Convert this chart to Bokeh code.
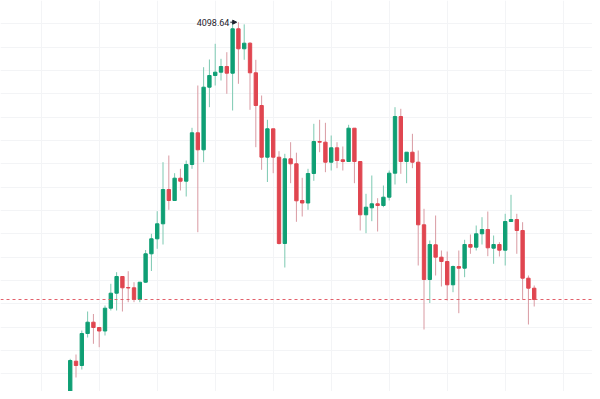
from bokeh.plotting import figure
from bokeh.models import ColumnDataSource, Span, FixedTicker, Range1d, Label, Arrow, NormalHead
from bokeh.embed import file_html
from bokeh.resources import INLINE

opens = [2545.4, 2595.4, 2577.4, 2598.6, 2742.6, 2725.4, 2853.4, 2898.6, 2877.4, 2863.4,
         2954.6, 3014.6, 3081.4, 3037.4, 3036.2, 2989.4, 3058.6, 3172.2, 3232.2, 3292.2,
         3429.4, 3385.4, 3474.6, 3462.6, 3529.4, 3656.2, 3588.2, 3838.6, 3885.4, 3898.6,
         3921.4, 3894.6, 4072.2, 3992.2, 4014.6, 3896.2, 3765.4, 3558.6, 3672.2, 3558.6,
         3213.4, 3552.2, 3532.2, 3385.4, 3375.4, 3493.4, 3621.4, 3618.6, 3538.6, 3596.2,
         3548.2, 3541.4, 3674.6, 3541.4, 3328.2, 3356.2, 3372.2, 3365.4, 3398.6, 3494.6,
         3721.4, 3541.4, 3578.6, 3538.6, 3288.2, 3069.4, 3208.2, 3158.6, 3141.4, 3048.2,
         3121.4, 3114.6, 3209.4, 3198.6, 3252.2, 3269.4, 3194.6, 3209.4, 3186.6, 3301.4,
         3309.4, 3265.4, 3074.6, 3034.6]

closes = [2593.4, 2598.6, 2598.6, 2745.4, 2725.4, 2853.4, 2898.6, 2877.4, 2863.4, 2954.6,
          3014.6, 3081.4, 3036.2, 3035.4, 2989.4, 3058.6, 3172.2, 3232.2, 3292.2, 3429.4,
          3385.4, 3474.6, 3462.6, 3529.4, 3656.2, 3588.2, 3838.6, 3885.4, 3898.6, 3921.4,
          3894.6, 4072.2, 3992.2, 4014.6, 3896.2, 3765.4, 3558.6, 3672.2, 3558.6, 3213.4,
          3552.2, 3532.2, 3384.2, 3375.4, 3493.4, 3621.4, 3618.6, 3538.6, 3596.2, 3545.4,
          3541.4, 3674.6, 3541.4, 3328.2, 3358.6, 3372.2, 3365.4, 3398.6, 3494.6, 3721.4,
          3541.4, 3578.6, 3538.6, 3288.2, 3069.4, 3209.4, 3158.6, 3141.4, 3048.2, 3121.4,
          3114.6, 3209.4, 3198.6, 3252.2, 3269.4, 3196.2, 3209.4, 3186.6, 3301.4, 3309.4,
          3265.4, 3074.6, 3034.6, 2989.4]

highs = [2618.6, 2608.2, 2613.4, 2752.2, 2769.4, 2865.4, 2941.4, 2931.4, 2877.4, 2965.4,
         3052.2, 3098.6, 3081.4, 3102.6, 3058.6, 3058.6, 3187.4, 3252.2, 3342.6, 3538.6,
         3565.4, 3494.6, 3512.2, 3545.4, 3676.2, 3845.4, 3918.6, 3949.4, 4012.2, 3952.2,
         3978.6, 4095.0, 4098.64, 4090.0, 4018.6, 3948.2, 3805.4, 3708.2, 3672.2, 3582.6,
         3572.2, 3618.6, 3576.6, 3476.2, 3512.2, 3692.2, 3708.2, 3696.2, 3645.4, 3618.6,
         3601.4, 3688.2, 3674.6, 3541.4, 3412.2, 3485.4, 3394.6, 3445.4, 3505.4, 3758.6,
         3752.2, 3578.6, 3652.2, 3585.4, 3352.2, 3225.4, 3325.4, 3185.4, 3181.4, 3125.4,
         3185.4, 3228.2, 3249.4, 3285.4, 3318.6, 3341.4, 3245.4, 3218.6, 3332.2, 3408.2,
         3332.2, 3298.6, 3085.4, 3045.4]

lows = [2537.4, 2577.4, 2569.4, 2587.4, 2677.4, 2709.4, 2837.4, 2812.2, 2798.6, 2845.4,
        2945.4, 2945.4, 2941.4, 2978.6, 2978.6, 2978.6, 3055.4, 3103.4, 3192.2, 3209.4,
        3348.2, 3385.4, 3425.4, 3401.4, 3512.2, 3258.6, 3538.6, 3758.6, 3845.4, 3865.4,
        3812.2, 3745.4, 3852.2, 3948.2, 3748.2, 3598.6, 3508.2, 3459.4, 3494.6, 3209.4,
        3117.4, 3454.6, 3300.2, 3321.4, 3348.2, 3464.2, 3578.6, 3498.6, 3505.4, 3514.6,
        3505.4, 3541.4, 3454.6, 3265.4, 3254.6, 3302.6, 3261.4, 3358.6, 3385.4, 3449.4,
        3492.2, 3454.6, 3514.6, 3125.4, 2869.4, 2975.4, 3085.4, 3041.4, 2985.4, 3018.6,
        2934.6, 3078.6, 3172.2, 3185.4, 3209.4, 3162.6, 3132.2, 3161.4, 3125.4, 3301.4,
        3172.2, 2989.4, 2889.4, 2961.4]

high_label = "4098.64"

GREEN = "#0f9f74"
RED = "#e04650"
GREEN_WICK = "#7cc9b1"
RED_WICK = "#d99aa2"

n = len(opens)
idx = list(range(n))
inc = [c >= o for o, c in zip(opens, closes)]
src = ColumnDataSource(dict(
    x=idx,
    h=highs,
    l=lows,
    top=[max(o, c) for o, c in zip(opens, closes)],
    bottom=[min(o, c) for o, c in zip(opens, closes)],
    bc=[GREEN if i else RED for i in inc],
    wc=[GREEN_WICK if i else RED_WICK for i in inc],
))

p = figure(width=592, height=391, output_backend="svg", toolbar_location=None,
           x_range=Range1d(-9.02, 93.05), y_range=Range1d(2621.4, 4185.4),
           min_border=0)
p.axis.visible = False
p.outline_line_color = None
p.background_fill_color = "white"
p.border_fill_color = "white"

p.xgrid.ticker = FixedTicker(ticks=[-2 + 10 * k for k in range(11)])
p.ygrid.ticker = FixedTicker(ticks=[4185.4 - 93.33 * k for k in range(18)])
p.xgrid.grid_line_color = "#f3f4f6"
p.ygrid.grid_line_color = "#f3f4f6"

p.segment("x", "h", "x", "l", source=src, line_color="wc", line_width=1)
p.vbar(x="x", width=0.58, top="top", bottom="bottom", source=src,
       fill_color="bc", line_color="bc", line_width=1)

p.add_layout(Span(location=closes[-1], dimension="width", line_color="#e0505c",
                  line_dash="3 3", line_width=1, line_alpha=0.9))

hi_i = highs.index(max(highs))
p.add_layout(Label(x=hi_i, y=highs[hi_i], x_offset=-9, text=high_label,
                   text_align="right", text_baseline="middle",
                   text_font_size="9px", text_font="Roboto", text_color="#1e222d"))
p.add_layout(Arrow(end=NormalHead(size=4, line_color="#1e222d", fill_color="#1e222d"),
                   x_start=hi_i - 1.4, y_start=highs[hi_i],
                   x_end=hi_i - 0.3, y_end=highs[hi_i],
                   line_color="#1e222d", line_width=1))

open("out.html", "w").write(file_html(p, INLINE))
